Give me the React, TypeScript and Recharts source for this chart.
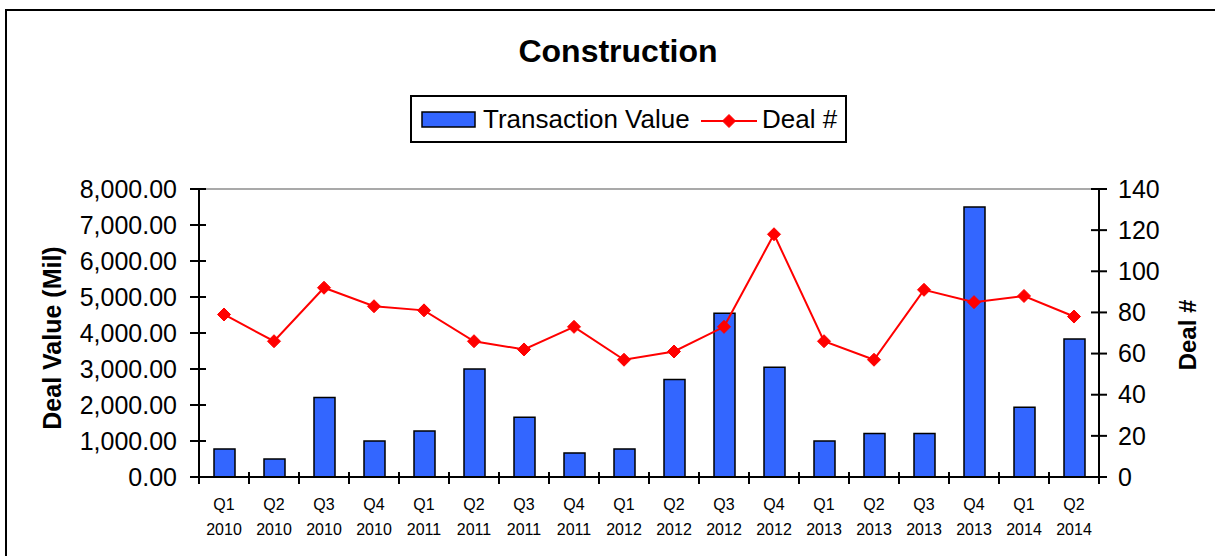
import React from "react";
import {
  ComposedChart,
  Bar,
  Line,
  XAxis,
  YAxis,
  ReferenceLine,
} from "recharts";

const QUARTERS = [
  "Q1 2010", "Q2 2010", "Q3 2010", "Q4 2010",
  "Q1 2011", "Q2 2011", "Q3 2011", "Q4 2011",
  "Q1 2012", "Q2 2012", "Q3 2012", "Q4 2012",
  "Q1 2013", "Q2 2013", "Q3 2013", "Q4 2013",
  "Q1 2014", "Q2 2014",
];

const TRANSACTION_VALUE = [
  780, 500, 2210, 1000, 1280, 3000, 1660, 670, 780,
  2710, 4550, 3050, 1000, 1210, 1210, 7500, 1940, 3830,
];

const DEAL_COUNT = [
  79, 66, 92, 83, 81, 66, 62, 73, 57,
  61, 73, 118, 66, 57, 91, 85, 88, 78,
];

const LEFT_TICKS = [0, 1000, 2000, 3000, 4000, 5000, 6000, 7000, 8000];
const RIGHT_TICKS = [0, 20, 40, 60, 80, 100, 120, 140];

const data = QUARTERS.map((q, i) => ({
  quarter: q,
  value: TRANSACTION_VALUE[i],
  deals: DEAL_COUNT[i],
}));

const FONT = "'Liberation Sans', Arial, sans-serif";
const BLUE = "#3366ff";
const RED = "#ff0000";

const LeftTick = ({ x, y, payload }: any) => (
  <g>
    <line x1={x - 9} x2={x + 7} y1={y} y2={y} stroke="#000" strokeWidth={2} />
    <text
      x={x - 22}
      y={y}
      dy="0.35em"
      textAnchor="end"
      fontSize={25}
      fontFamily={FONT}
      fill="#000"
    >
      {Number(payload.value).toLocaleString("en-US", {
        minimumFractionDigits: 2,
        maximumFractionDigits: 2,
      })}
    </text>
  </g>
);

const RightTick = ({ x, y, payload }: any) => (
  <g>
    <line x1={x - 8} x2={x + 8} y1={y} y2={y} stroke="#000" strokeWidth={2} />
    <text
      x={x + 19}
      y={y}
      dy="0.35em"
      textAnchor="start"
      fontSize={25}
      fontFamily={FONT}
      fill="#000"
    >
      {payload.value}
    </text>
  </g>
);

const QuarterTick = ({ x, y, payload, index, width }: any) => {
  const band = width / QUARTERS.length;
  const [q, yr] = String(payload.value).split(" ");
  return (
    <g>
      <line x1={x - band / 2} x2={x - band / 2} y1={y - 5} y2={y + 7} stroke="#000" strokeWidth={2} />
      {index === QUARTERS.length - 1 && (
        <line x1={x + band / 2} x2={x + band / 2} y1={y - 5} y2={y + 7} stroke="#000" strokeWidth={2} />
      )}
      <text x={x} y={y + 33} textAnchor="middle" fontSize={16} fontFamily={FONT} fill="#000">
        {q}
      </text>
      <text x={x} y={y + 58} textAnchor="middle" fontSize={16} fontFamily={FONT} fill="#000">
        {yr}
      </text>
    </g>
  );
};

const Diamond = ({ cx, cy }: any) => {
  if (cx == null || cy == null) return null;
  const r = 6.5;
  return (
    <polygon
      points={`${cx},${cy - r} ${cx + r},${cy} ${cx},${cy + r} ${cx - r},${cy}`}
      fill={RED}
      stroke={RED}
    />
  );
};

export default function App() {
  return (
    <div style={{ position: "absolute", left: 0, top: 0, width: 1215, height: 556, background: "#fff" }}>
      <ComposedChart
        width={1215}
        height={556}
        data={data}
        margin={{ top: 189, right: 0, bottom: 0, left: 0 }}
      >
        <XAxis
          dataKey="quarter"
          xAxisId="x"
          height={79}
          interval={0}
          tickLine={false}
          tickSize={0}
          tickMargin={0}
          axisLine={{ stroke: "#000", strokeWidth: 2 }}
          tick={<QuarterTick />}
        />
        <YAxis
          yAxisId="left"
          orientation="left"
          width={199}
          domain={[0, 8000]}
          ticks={LEFT_TICKS}
          interval={0}
          tickLine={false}
          tickSize={0}
          tickMargin={0}
          axisLine={{ stroke: "#000", strokeWidth: 2 }}
          tick={<LeftTick />}
        />
        <YAxis
          yAxisId="right"
          orientation="right"
          width={116}
          domain={[0, 140]}
          ticks={RIGHT_TICKS}
          interval={0}
          tickLine={false}
          tickSize={0}
          tickMargin={0}
          axisLine={{ stroke: "#000", strokeWidth: 2 }}
          tick={<RightTick />}
        />
        <ReferenceLine yAxisId="left" xAxisId="x" y={8000} stroke="#8c8c8c" strokeWidth={1.5} />
        <Bar
          dataKey="value"
          xAxisId="x"
          yAxisId="left"
          barSize={21}
          fill={BLUE}
          stroke="#000"
          strokeWidth={1.5}
          isAnimationActive={false}
        />
        <Line
          dataKey="deals"
          xAxisId="x"
          yAxisId="right"
          type="linear"
          stroke={RED}
          strokeWidth={2}
          dot={<Diamond />}
          activeDot={false}
          isAnimationActive={false}
        />
      </ComposedChart>

      <svg
        width={1215}
        height={556}
        style={{ position: "absolute", left: 0, top: 0, pointerEvents: "none" }}
      >
        {/* outer frame, only top and left edges fall inside the picture */}
        <line x1={5} x2={1215} y1={10} y2={10} stroke="#000" strokeWidth={2} />
        <line x1={6} x2={6} y1={9} y2={556} stroke="#000" strokeWidth={2} />

        <text x={618} y={62} textAnchor="middle" fontSize={32} fontWeight="bold" fontFamily={FONT}>
          Construction
        </text>

        <rect x={411} y={96} width={435} height={46} fill="#fff" stroke="#000" strokeWidth={2} />
        <rect x={422} y={112} width={53} height={15} fill={BLUE} stroke="#000" strokeWidth={1.5} />
        <text x={483} y={128} fontSize={26} fontFamily={FONT}>
          Transaction Value
        </text>
        <line x1={701} x2={757} y1={121} y2={121} stroke={RED} strokeWidth={2} />
        <Diamond cx={729} cy={121} />
        <text x={762} y={128} fontSize={26} fontFamily={FONT}>
          Deal #
        </text>

        <text
          transform="translate(61 338) rotate(-90)"
          textAnchor="middle"
          fontSize={25}
          fontWeight="bold"
          fontFamily={FONT}
        >
          Deal Value (Mil)
        </text>
        <text
          transform="translate(1196 335) rotate(-90)"
          textAnchor="middle"
          fontSize={24}
          fontWeight="bold"
          fontFamily={FONT}
        >
          Deal #
        </text>
      </svg>
    </div>
  );
}
